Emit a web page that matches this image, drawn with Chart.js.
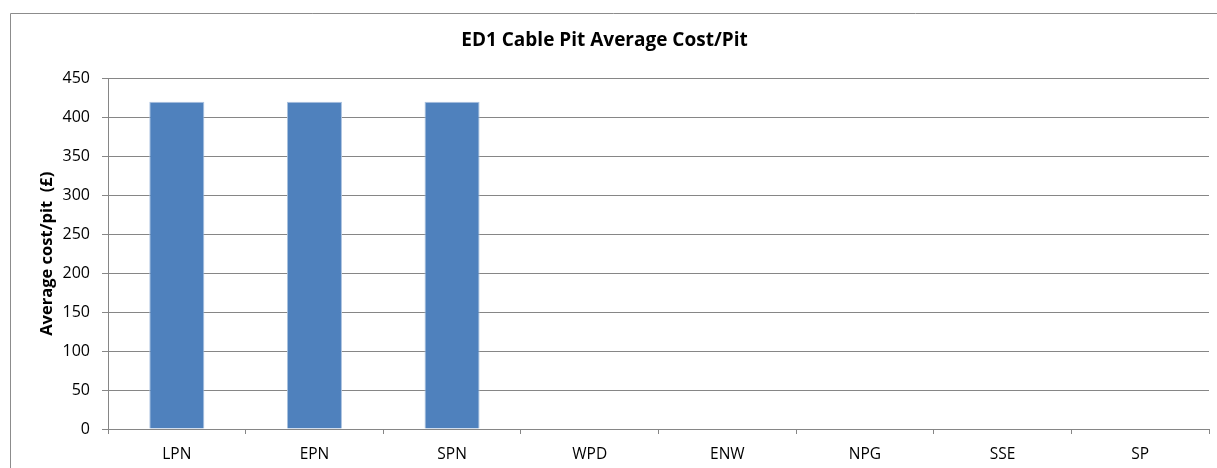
<!DOCTYPE html>
<html>
<head>
<meta charset="utf-8">
<script src="https://cdn.jsdelivr.net/npm/chart.js@4/dist/chart.umd.min.js"></script>
<style>
html,body{margin:0;padding:0;background:#fff;}
#wrap{position:relative;width:1217px;height:468px;}
</style>
</head>
<body>
<div id="wrap"><canvas id="c" width="1217" height="468"></canvas></div>
<script>
const categories = ["LPN","EPN","SPN","WPD","ENW","NPG","SSE","SP"];
const avgCost = [420,420,420,null,null,null,null,null];
const yTicks = [0,50,100,150,200,250,300,350,400,450];
const chartTitle = "ED1 Cable Pit Average Cost/Pit";
const yTitle = "Average cost/pit  (£)";

const outerBorder = {
  id: 'outerBorder',
  beforeDraw(chart) {
    const ctx = chart.ctx;
    ctx.save();
    ctx.strokeStyle = '#8c8c8c';
    ctx.lineWidth = 1;
    ctx.beginPath();
    ctx.moveTo(10.5, 468);
    ctx.lineTo(10.5, 13.5);
    ctx.lineTo(1217, 13.5);
    ctx.stroke();
    ctx.restore();
  }
};

new Chart(document.getElementById('c'), {
  type: 'bar',
  data: {
    labels: categories,
    datasets: [{
      data: avgCost,
      backgroundColor: '#4F81BD',
      borderColor: '#A9C1DF',
      borderWidth: {left:1,right:1,top:1,bottom:0},
      barPercentage: 0.4,
      categoryPercentage: 1.0
    }]
  },
  options: {
    responsive: false,
    animation: false,
    devicePixelRatio: 1,
    layout: { padding: { left: 0, right: 8, top: 0, bottom: 0 } },
    plugins: {
      legend: { display: false },
      tooltip: { enabled: false },
      title: {
        display: true,
        text: chartTitle,
        color: '#000',
        font: { family: 'Open Sans', size: 19, weight: 'bold', lineHeight: 1.2 },
        padding: { top: 29, bottom: 26.7 }
      }
    },
    scales: {
      x: {
        offset: true,
        grid: {
          offset: true,
          drawOnChartArea: false,
          drawTicks: true,
          tickLength: 5,
          color: '#868686'
        },
        border: { display: true, color: '#868686' },
        ticks: {
          color: '#000',
          padding: 11,
          font: { family: 'Open Sans', size: 15.5 },
          maxRotation: 0
        },
        afterFit(scale) { scale.height = 39; }
      },
      y: {
        min: 0,
        max: 450,
        afterBuildTicks(scale) { scale.ticks = yTicks.map(v => ({ value: v })); },
        grid: {
          color: '#868686',
          drawTicks: true,
          tickLength: 6
        },
        border: { display: true, color: '#868686' },
        ticks: {
          color: '#000',
          padding: 12,
          font: { family: 'Open Sans', size: 16 }
        },
        title: {
          display: true,
          text: yTitle,
          color: '#000',
          font: { family: 'Open Sans', size: 16.5, weight: 'bold' },
          padding: { top: 37, bottom: 0 }
        },
        afterFit(scale) { scale.width = 108; }
      }
    }
  },
  plugins: [outerBorder]
});
</script>
</body>
</html>
